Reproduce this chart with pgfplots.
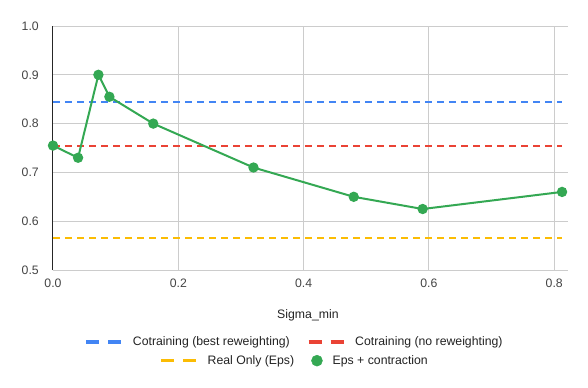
\documentclass[border=0pt]{standalone}
\usepackage{pgfplots}
\pgfplotsset{compat=1.18}
\usepackage{fontspec}
\setmainfont{Liberation Sans}
\definecolor{gblue}{HTML}{4285F4}
\definecolor{gred}{HTML}{EA4335}
\definecolor{gyellow}{HTML}{FBBC04}
\definecolor{ggreen}{HTML}{34A853}
\definecolor{gridc}{HTML}{CCCCCC}
\definecolor{tickc}{HTML}{444444}
\definecolor{txtc}{HTML}{222222}
\begin{document}
\begin{tikzpicture}
\pgfplotsset{
  dashleg/.style={legend image code/.code={\draw[##1, solid, line width=2.6pt] (0pt,0pt) -- (9.75pt,0pt) (16.5pt,0pt) -- (26.25pt,0pt);}},
  commonleg/.style={legend columns=2, legend style={draw=none, fill=none, inner sep=0pt, font=\fontsize{9.2}{11}\selectfont, text=txtc,
     nodes={inner sep=0pt}, /tikz/every even column/.append style={column sep=12.75pt}, /tikz/every odd column/.append style={column sep=7.5pt}}}
}
\begin{axis}[name=ax, scale only axis, width=386.25pt, height=183pt,
  xmin=0, xmax=0.822, ymin=0.5, ymax=1.0, clip=false,
  axis line style={draw=none}, major tick length=0pt, tick style={draw=none},
  xtick={0,0.2,0.4,0.6,0.8}, ytick={0.5,0.6,0.7,0.8,0.9,1.0},
  grid=major, major grid style={gridc, line width=0.75pt},
  extra x ticks={0}, extra x tick labels={}, extra x tick style={grid=major, major grid style={color=black!85, line width=0.75pt}},
  ticklabel style={font=\fontsize{9.2}{11}\selectfont, color=tickc},
  xticklabel style={anchor=north, inner sep=0pt, yshift=-6.5pt},
  yticklabel style={anchor=east, inner sep=0pt, xshift=-10.5pt},
  /pgf/number format/fixed, /pgf/number format/fixed zerofill, /pgf/number format/precision=1, /pgf/number format/assume math mode=true,
  xlabel={Sigma\_min},
  xlabel style={at={(axis description cs:0.495,0)}, anchor=center, yshift=-34.3pt, font=\fontsize{9.2}{11}\selectfont, color=txtc},
  commonleg,
  legend style={at={(axis description cs:0.467,-0.295)}, anchor=center},
]
\addplot[gblue, line width=1.5pt, dash pattern=on 5.25pt off 3.75pt, dashleg] coordinates {(0,0.845) (0.8125,0.845)};
\addplot[gred, line width=1.5pt, dash pattern=on 5.25pt off 3.75pt, dashleg] coordinates {(0,0.755) (0.8125,0.755)};
\addplot[gyellow, line width=1.5pt, dash pattern=on 5.25pt off 3.75pt, forget plot] coordinates {(0,0.565) (0.8125,0.565)};
\addplot[ggreen, line width=1.5pt, mark=*, mark size=3.1pt, mark options={fill=ggreen, draw=ggreen}, forget plot] coordinates {
(0,0.755) (0.04,0.73) (0.0725,0.90) (0.09,0.855) (0.16,0.80) (0.32,0.71) (0.48,0.65) (0.59,0.625) (0.8125,0.66)};
\legend{Cotraining (best reweighting), Cotraining (no reweighting)}
\end{axis}
\begin{axis}[scale only axis, width=386.25pt, height=183pt, hide axis,
  xmin=0, xmax=1, ymin=0, ymax=1, commonleg,
  legend style={at={(axis description cs:0.467,-0.3716)}, anchor=center}]
\addlegendimage{gyellow, line width=1.5pt, dashleg}
\addlegendentry{Real Only (Eps)}
\addlegendimage{legend image code/.code={\fill[ggreen] (4.1pt,0pt) circle (4.1pt);}}
\addlegendentry{Eps + contraction}
\end{axis}
\path (-39.75pt,-87.75pt) rectangle (401.25pt,202.5pt);
\end{tikzpicture}
\end{document}
